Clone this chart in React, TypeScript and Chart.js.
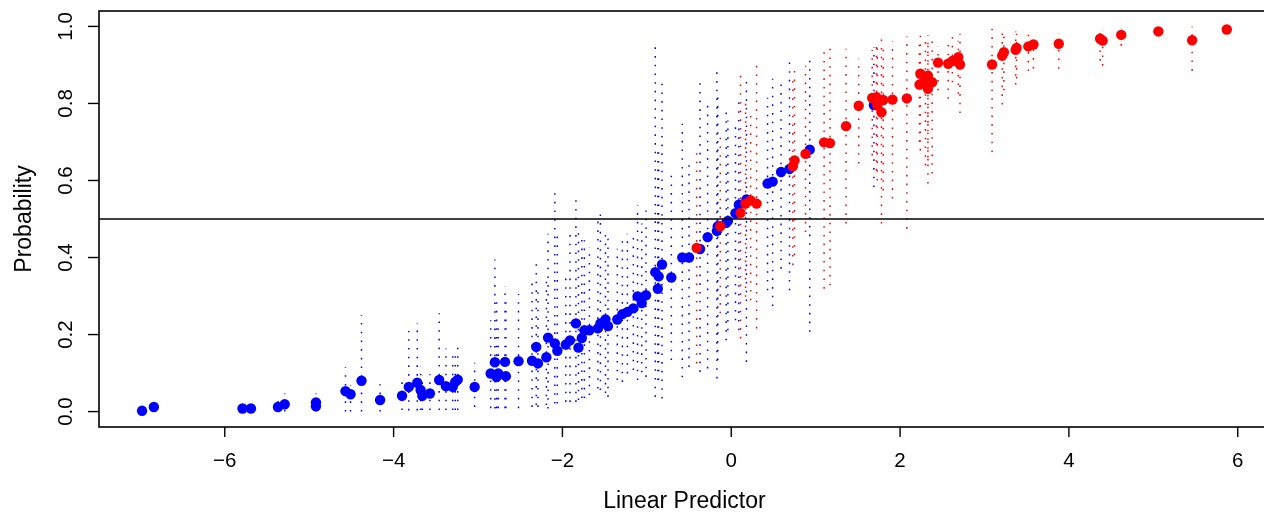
import { useEffect, useRef } from "react";
import { Chart, registerables } from "chart.js";

Chart.register(...registerables);

// ---- Data ----
const xTicks = [-6, -4, -2, 0, 2, 4, 6];
const xTickLabels = ["\u22126", "\u22124", "\u22122", "0", "2", "4", "6"];
const yTicks = [0, 0.2, 0.4, 0.6, 0.8, 1.0];
const yTickLabels = ["0.0", "0.2", "0.4", "0.6", "0.8", "1.0"];
const xTitle = "Linear Predictor";
const yTitle = "Probability";
const refLine = 0.5;

// Blue observations: linear predictor, probability, interval low, interval high
const blueX = [
  -6.98, -6.84, -5.79, -5.69, -5.37, -5.29, -4.92, -4.92, -4.57, -4.51,
  -4.38, -4.16, -3.9, -3.82, -3.72, -3.68, -3.66, -3.57, -3.46, -3.38,
  -3.3, -3.27, -3.24, -3.04, -2.85, -2.8, -2.78, -2.76, -2.68, -2.67,
  -2.52, -2.36, -2.31, -2.29, -2.19, -2.17, -2.09, -2.06, -1.96, -1.91,
  -1.84, -1.81, -1.77, -1.74, -1.68, -1.58, -1.55, -1.49, -1.46, -1.35,
  -1.29, -1.23, -1.16, -1.11, -1.06, -1.01, -0.9, -0.87, -0.86, -0.82,
  -0.71, -0.58, -0.5, -0.37, -0.28, -0.17, -0.16, -0.06, -0.04, 0.05,
  0.09, 0.18, 0.43, 0.49, 0.59, 0.69, 0.93, 1.69,
];
const blueP = [
  0.002, 0.012, 0.008, 0.008, 0.012, 0.019, 0.024, 0.014, 0.053, 0.045,
  0.08, 0.03, 0.041, 0.064, 0.075, 0.056, 0.041, 0.047, 0.082, 0.066,
  0.064, 0.077, 0.083, 0.064, 0.099, 0.128, 0.09, 0.099, 0.129, 0.092,
  0.131, 0.132, 0.168, 0.125, 0.141, 0.192, 0.177, 0.158, 0.174, 0.185,
  0.229, 0.166, 0.191, 0.211, 0.211, 0.216, 0.229, 0.239, 0.222, 0.239,
  0.253, 0.259, 0.268, 0.299, 0.282, 0.302, 0.362, 0.319, 0.351, 0.382,
  0.348, 0.4, 0.4, 0.422, 0.453, 0.469, 0.481, 0.49, 0.495, 0.515,
  0.537, 0.551, 0.592, 0.597, 0.622, 0.63, 0.68, 0.796,
];
const blueLo = [
  0.0, 0.0, 0.001, 0.001, 0.001, 0.0, 0.0, 0.0, 0.0, 0.0,
  0.0, 0.0, 0.004, 0.003, 0.003, 0.004, 0.004, 0.004, 0.004, 0.004,
  0.004, 0.004, 0.004, 0.012, 0.009, 0.008, 0.009, 0.009, 0.009, 0.009,
  0.009, 0.012, 0.017, 0.012, 0.017, 0.008, 0.021, 0.021, 0.025, 0.025,
  0.025, 0.03, 0.035, 0.035, 0.043, 0.06, 0.056, 0.048, 0.038, 0.082,
  0.077, 0.099, 0.108, 0.082, 0.102, 0.09, 0.038, 0.082, 0.082, 0.034,
  0.134, 0.089, 0.116, 0.103, 0.112, 0.086, 0.134, 0.185, 0.211, 0.237,
  0.211, 0.129, 0.315, 0.274, 0.371, 0.315, 0.207, 0.583,
];
const blueHi = [
  0.009, 0.02, 0.015, 0.015, 0.03, 0.047, 0.047, 0.04, 0.115, 0.069,
  0.25, 0.071, 0.082, 0.209, 0.23, 0.118, 0.095, 0.097, 0.255, 0.164,
  0.144, 0.159, 0.166, 0.127, 0.237, 0.395, 0.289, 0.216, 0.326, 0.289,
  0.305, 0.337, 0.395, 0.315, 0.341, 0.462, 0.567, 0.455, 0.35, 0.464,
  0.564, 0.471, 0.462, 0.445, 0.427, 0.507, 0.522, 0.471, 0.458, 0.423,
  0.445, 0.462, 0.453, 0.535, 0.488, 0.522, 0.956, 0.678, 0.678, 0.851,
  0.613, 0.747, 0.648, 0.854, 0.795, 0.881, 0.834, 0.777, 0.756, 0.747,
  0.808, 0.859, 0.815, 0.864, 0.851, 0.907, 0.911, 0.946,
];

// Red observations
const redX = [
  -0.41, -0.13, 0.11, 0.17, 0.23, 0.3, 0.73, 0.75, 0.88, 1.1,
  1.17, 1.36, 1.51, 1.67, 1.72, 1.73, 1.78, 1.8, 1.91, 2.08,
  2.24, 2.33, 2.3, 2.38, 2.23, 2.33, 2.45, 2.57, 2.62, 2.69,
  2.71, 3.09, 3.21, 3.23, 3.37, 3.38, 3.52, 3.58, 3.88, 4.37,
  4.4, 4.62, 5.06, 5.46, 5.87,
];
const redP = [
  0.425, 0.481, 0.516, 0.54, 0.548, 0.54, 0.637, 0.652, 0.669, 0.699,
  0.697, 0.741, 0.794, 0.814, 0.816, 0.795, 0.777, 0.809, 0.81, 0.813,
  0.877, 0.872, 0.859, 0.855, 0.849, 0.838, 0.906, 0.903, 0.91, 0.92,
  0.901, 0.901, 0.924, 0.933, 0.939, 0.944, 0.948, 0.953, 0.955, 0.968,
  0.963, 0.978, 0.987, 0.964, 0.992,
];
const redLo = [
  0.125, 0.255, 0.19, 0.298, 0.289, 0.216, 0.38, 0.406, 0.466, 0.319,
  0.328, 0.488, 0.644, 0.665, 0.626, 0.6, 0.488, 0.574, 0.553, 0.475,
  0.678, 0.592, 0.639, 0.618, 0.7, 0.652, 0.834, 0.812, 0.855, 0.825,
  0.775, 0.674, 0.797, 0.834, 0.849, 0.865, 0.884, 0.891, 0.89, 0.911,
  0.898, 0.95, 0.974, 0.885, 0.984,
];
const redHi = [
  0.671, 0.712, 0.872, 0.799, 0.786, 0.9, 0.859, 0.9, 0.898, 0.933,
  0.943, 0.942, 0.916, 0.939, 0.965, 0.95, 0.966, 0.95, 0.961, 0.974,
  0.978, 0.978, 0.978, 0.968, 0.963, 0.963, 0.948, 0.957, 0.972, 0.963,
  0.981, 0.994, 0.987, 0.987, 0.987, 0.981, 0.981, 0.981, 0.981, 0.991,
  0.989, 0.996, 0.994, 1.0, 0.999,
];

const BLUE = "#0000FF";
const RED = "#FF0000";
const FONT = "'Liberation Sans', Arial, Helvetica, sans-serif";

function pts(xs: number[], ys: number[]) {
  return xs.map((x, i) => ({ x, y: ys[i] }));
}
function segs(xs: number[], lo: number[], hi: number[]) {
  const out: { x: number; y: number | null }[] = [];
  xs.forEach((x, i) => {
    out.push({ x, y: lo[i] });
    out.push({ x, y: hi[i] });
    out.push({ x, y: null });
  });
  return out;
}

const axesPlugin = {
  id: "rAxes",
  afterDatasetsDraw(chart: any) {
    const { ctx, chartArea, scales } = chart;
    const xs = scales.x;
    const ys = scales.y;
    const { left, right, top, bottom } = chartArea;
    ctx.save();
    ctx.strokeStyle = "#000";
    ctx.setLineDash([]);
    // reference line
    ctx.lineWidth = 1.6;
    const yr = ys.getPixelForValue(refLine);
    ctx.beginPath();
    ctx.moveTo(left, yr);
    ctx.lineTo(right, yr);
    ctx.stroke();
    // box
    ctx.lineWidth = 1.6;
    ctx.strokeRect(left, top, right - left, bottom - top);
    // x ticks
    ctx.fillStyle = "#000";
    ctx.font = `20.5px ${FONT}`;
    ctx.textAlign = "center";
    ctx.textBaseline = "alphabetic";
    ctx.lineWidth = 1.4;
    xTicks.forEach((v, i) => {
      const px = xs.getPixelForValue(v);
      ctx.beginPath();
      ctx.moveTo(px, bottom);
      ctx.lineTo(px, bottom + 10);
      ctx.stroke();
      ctx.fillText(xTickLabels[i], px, 467);
    });
    // y ticks
    yTicks.forEach((v, i) => {
      const py = ys.getPixelForValue(v);
      ctx.beginPath();
      ctx.moveTo(left - 11, py);
      ctx.lineTo(left, py);
      ctx.stroke();
      ctx.save();
      ctx.translate(72, py);
      ctx.rotate(-Math.PI / 2);
      ctx.fillText(yTickLabels[i], 0, 0);
      ctx.restore();
    });
    // titles
    ctx.font = `23px ${FONT}`;
    ctx.fillText(xTitle, (left + right) / 2, 508);
    ctx.save();
    ctx.translate(30.5, (top + bottom) / 2);
    ctx.rotate(-Math.PI / 2);
    ctx.fillText(yTitle, 0, 0);
    ctx.restore();
    ctx.restore();
  },
};

export default function App() {
  const ref = useRef<HTMLCanvasElement | null>(null);
  useEffect(() => {
    document.body.style.margin = "0";
    document.body.style.overflow = "hidden";
    const canvas = ref.current;
    if (!canvas) return;
    const dash = [1.6, 7.1];
    const chart = new Chart(canvas, {
      type: "scatter",
      data: {
        datasets: [
          {
            label: "red",
            data: pts(redX, redP),
            backgroundColor: RED,
            borderWidth: 0,
            pointRadius: 5.2,
            pointHoverRadius: 5.2,
            order: 0,
          },
          {
            label: "blue",
            data: pts(blueX, blueP),
            backgroundColor: BLUE,
            borderWidth: 0,
            pointRadius: 5.2,
            pointHoverRadius: 5.2,
            order: 1,
          },
          {
            label: "red interval",
            data: segs(redX, redLo, redHi) as any,
            showLine: true,
            spanGaps: false,
            borderColor: RED,
            borderWidth: 1.5,
            borderDash: dash,
            pointRadius: 0,
            order: 2,
          },
          {
            label: "blue interval",
            data: segs(blueX, blueLo, blueHi) as any,
            showLine: true,
            spanGaps: false,
            borderColor: BLUE,
            borderWidth: 1.5,
            borderDash: dash,
            pointRadius: 0,
            order: 3,
          },
        ],
      },
      options: {
        responsive: false,
        maintainAspectRatio: false,
        animation: false,
        devicePixelRatio: 1,
        layout: { padding: { left: 99, top: 11, right: 4, bottom: 86 } },
        scales: {
          x: { type: "linear", min: -7.49, max: 6.38, display: false },
          y: { type: "linear", min: -0.04, max: 1.04, display: false },
        },
        plugins: {
          legend: { display: false },
          tooltip: { enabled: false },
        },
      },
      plugins: [axesPlugin],
    });
    return () => chart.destroy();
  }, []);
  return (
    <div
      style={{
        position: "absolute",
        left: 0,
        top: 0,
        width: 1264,
        height: 513,
        overflow: "hidden",
        background: "#fff",
      }}
    >
      <canvas ref={ref} width={1275} height={513} style={{ display: "block" }} />
    </div>
  );
}
